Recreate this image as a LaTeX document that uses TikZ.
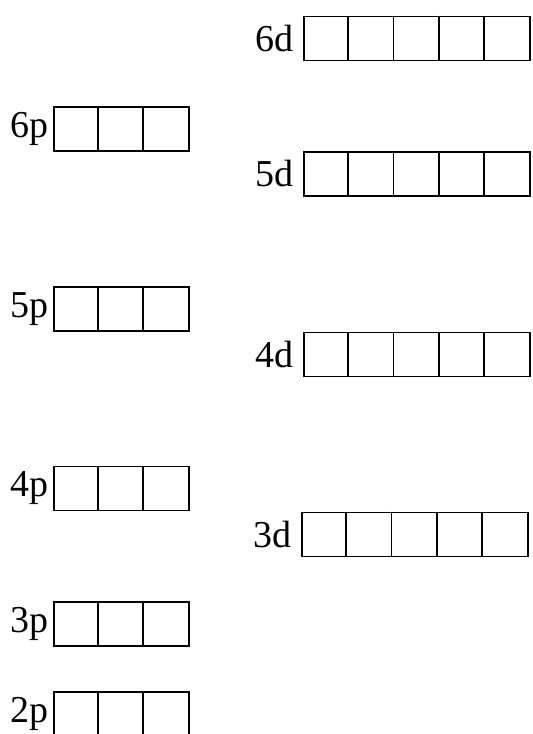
\documentclass[tikz,border=0pt]{standalone}
\usepackage{fontspec}
\setmainfont{Liberation Serif}
\usetikzlibrary{positioning,calc}
\tikzset{
  every picture/.style={line width=1.8pt},
  orb/.style={draw,rectangle,inner sep=0pt,minimum height=44pt},
  porb/.style={orb,minimum width=135pt},
  dorb/.style={orb,minimum width=226pt},
  lbl/.style={inner sep=0pt,font=\fontsize{38}{38}\selectfont},
}
\begin{document}
\begin{tikzpicture}[x=1pt,y=1pt]
  \useasboundingbox (0,0) rectangle (533,734);
  % p levels, three boxes each
  \foreach \n/\y in {6/605,5/425,4/245.5,3/110,2/20}{
    \node[porb,anchor=west] (p\n) at (53,\y) {};
    \foreach \k in {1,2} \draw ($(p\n.north west)+(\k*45,0)$) -- ($(p\n.south west)+(\k*45,0)$);
    \node[lbl,left=4pt of p\n] (lp\n) {\n p};
  }
  % d levels, five boxes each
  \foreach \n/\x/\y in {6/303/695.5,5/303/560,4/303/379.5,3/301/199.5}{
    \node[dorb,anchor=west] (d\n) at (\x,\y) {};
    \foreach \k in {1,...,4} \draw ($(d\n.north west)+(\k*45.2,0)$) -- ($(d\n.south west)+(\k*45.2,0)$);
    \node[lbl,left=9pt of d\n] (ld\n) {\n d};
  }
\end{tikzpicture}
\end{document}
